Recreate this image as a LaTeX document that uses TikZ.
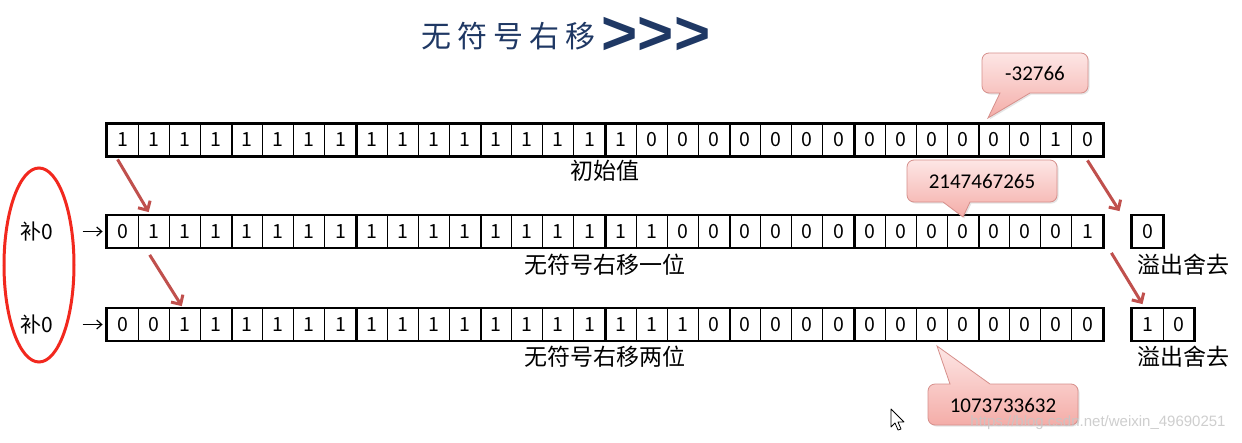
\documentclass[tikz,border=0pt]{standalone}
\usepackage{fontspec}
\setmainfont{Noto Sans CJK SC}
\newfontfamily\calfont{Carlito}
\newfontfamily\arfont{Liberation Sans}
\newfontfamily\titlefont[LetterSpace=20]{Noto Sans CJK SC}
\usetikzlibrary{arrows.meta,shadows}
\definecolor{navy}{HTML}{1F3864}
\definecolor{arrred}{HTML}{C0504D}
\definecolor{ovalred}{HTML}{F2281E}
\definecolor{cotop}{HTML}{FDE6E5}
\definecolor{cobot}{HTML}{F4ADA8}
\definecolor{coline}{HTML}{D68F8B}
\begin{document}
\begin{tikzpicture}[x=1pt,y=1pt,
  cell/.style={draw, line width=0.8pt, minimum width=31.125pt, minimum height=32pt, inner sep=0pt, font=\fontsize{19.5}{21}\selectfont},
  frame/.style={line width=2.6pt},
  lab/.style={inner sep=0pt, font=\fontsize{23}{26}\selectfont},
  pad/.style={inner sep=0pt, font=\fontsize{21}{23}\selectfont},
  shiftarrow/.style={arrred, line width=3pt, -{Straight Barb[length=7pt,width=14pt]}},
  blkarrow/.style={black, line width=1.2pt, -{Straight Barb[length=5pt,width=9pt]}},
  callout/.style={draw=coline, line width=0.8pt, top color=cotop, bottom color=cobot, drop shadow={opacity=0.2,shadow xshift=1.5pt,shadow yshift=-1.5pt}},
  cotext/.style={inner sep=0pt, font=\calfont\fontsize{21}{24}\selectfont}
]
\useasboundingbox[fill=white] (0,0) rectangle (1242,-442);

% title
\node[inner sep=0pt, text=navy, font=\titlefont\fontsize{30}{34}\selectfont] (title) at (508,-36) {无符号右移};
\node[inner sep=0pt, text=navy, font=\arfont\bfseries\fontsize{62}{66}\selectfont] (chev) at (656,-36) {>\kern0pt>\kern0pt>};

% row 1
\foreach \b [count=\i] in {1,1,1,1,1,1,1,1,1,1,1,1,1,1,1,1,1,0,0,0,0,0,0,0,0,0,0,0,0,0,1,0}
  \node[cell] (r1c\i) at ({107+(\i-0.5)*31.125},-140) {\b};
\draw[frame] (r1c1.north west) rectangle (r1c32.south east);
\foreach \k in {4,8,...,28} \draw[frame] (r1c\k.north east) -- (r1c\k.south east);

% row 2
\foreach \b [count=\i] in {0,1,1,1,1,1,1,1,1,1,1,1,1,1,1,1,1,1,0,0,0,0,0,0,0,0,0,0,0,0,0,1}
  \node[cell] (r2c\i) at ({107+(\i-0.5)*31.125},-231.5) {\b};
\draw[frame] (r2c1.north west) rectangle (r2c32.south east);
\foreach \k in {4,8,...,28} \draw[frame] (r2c\k.north east) -- (r2c\k.south east);

% row 3
\foreach \b [count=\i] in {0,0,1,1,1,1,1,1,1,1,1,1,1,1,1,1,1,1,1,0,0,0,0,0,0,0,0,0,0,0,0,0}
  \node[cell] (r3c\i) at ({107+(\i-0.5)*31.125},-324.5) {\b};
\draw[frame] (r3c1.north west) rectangle (r3c32.south east);
\foreach \k in {4,8,...,28} \draw[frame] (r3c\k.north east) -- (r3c\k.south east);

% overflow boxes
\node[cell] (o2) at (1147.5,-231.5) {0};
\draw[frame] (o2.north west) rectangle (o2.south east);
\node[cell] (o3a) at (1147.5,-324.5) {1};
\node[cell] (o3b) at (1178.625,-324.5) {0};
\draw[frame] (o3a.north west) rectangle (o3b.south east);

% labels
\node[lab] (l1) at (605,-171) {初始值};
\node[lab] (l2) at (605,-265) {无符号右移一位};
\node[lab] (l3) at (605,-357) {无符号右移两位};
\node[lab] (ov2) at (1183,-265) {溢出舍去};
\node[lab] (ov3) at (1183,-357) {溢出舍去};

% padding zeros
\node[pad] (p2) at (37,-231.5) {补0};
\node[pad] (p3) at (37,-324.5) {补0};
\draw[blkarrow, shorten <=29pt, shorten >=4pt] (p2) -- (r2c1);
\draw[blkarrow, shorten <=29pt, shorten >=4pt] (p3) -- (r3c1);
\draw[ovalred, line width=3pt] (39,-265) ellipse [x radius=35, y radius=97];

% shift arrows
\draw[shiftarrow] ([xshift=-5pt,yshift=-3pt]r1c1.south) -- ([xshift=-5pt,yshift=3pt]r2c2.north);
\draw[shiftarrow] ([xshift=-4pt,yshift=-7pt]r2c2.south) -- ([xshift=-3pt,yshift=2pt]r3c3.north);
\draw[shiftarrow] ([yshift=-4pt]r1c32.south) -- ([xshift=-12pt,yshift=4pt]o2.north west);
\draw[shiftarrow] ([xshift=8pt,yshift=-5pt]r2c32.south east) -- ([xshift=-5pt,yshift=4pt]o3a.north);

% callouts
\path[callout] (989,-53) -- (1081,-53) arc[start angle=90,end angle=0,radius=7] -- (1088,-86) arc[start angle=0,end angle=-90,radius=7] -- (1030,-93) -- (988,-118) -- (1000,-93) -- (989,-93) arc[start angle=270,end angle=180,radius=7] -- (982,-60) arc[start angle=180,end angle=90,radius=7] -- cycle;
\node[cotext] (c1) at (1035,-73) {-32766};

\path[callout] (914,-160) -- (1050,-160) arc[start angle=90,end angle=0,radius=7] -- (1057,-195) arc[start angle=0,end angle=-90,radius=7] -- (970,-202) -- (963,-217) -- (943,-202) -- (914,-202) arc[start angle=270,end angle=180,radius=7] -- (907,-195) -- (907,-167) arc[start angle=180,end angle=90,radius=7] -- cycle;
\node[cotext] (c2) at (982,-181) {2147467265};

\path[callout] (935,-384) -- (950,-384) -- (937,-346) -- (990,-384) -- (1071,-384) arc[start angle=90,end angle=0,radius=7] -- (1078,-418) arc[start angle=0,end angle=-90,radius=7] -- (935,-425) arc[start angle=270,end angle=180,radius=7] -- (928,-391) arc[start angle=180,end angle=90,radius=7] -- cycle;
\node[cotext] (c3) at (1003,-405) {1073733632};

% cursor
\draw[fill=white, line width=0.8pt, line join=round] (891,-409) -- (891,-427) -- (895,-423) -- (898,-430) -- (901,-429) -- (898,-422) -- (904,-422) -- cycle;

% watermark
\node[text=gray!45, font=\arfont\fontsize{15}{17}\selectfont, inner sep=0pt, opacity=0.85] (wm) at (1098,-423) {https://blog.csdn.net/weixin\_49690251};
\end{tikzpicture}
\end{document}
